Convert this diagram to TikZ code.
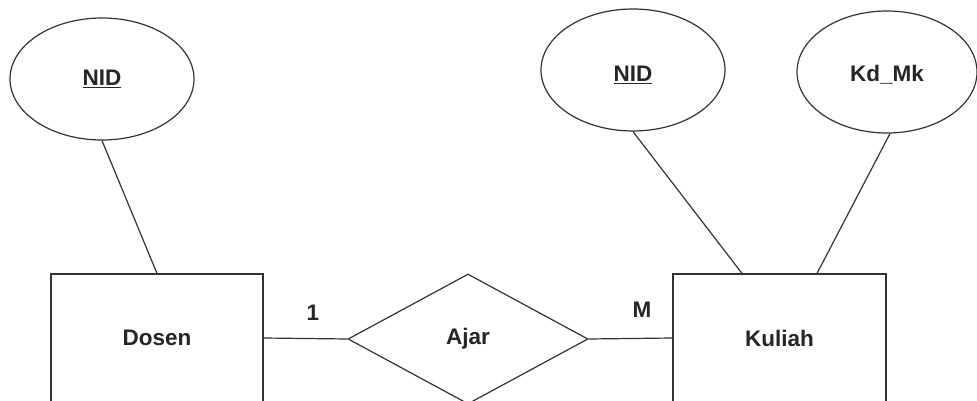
\documentclass[tikz,border=0pt]{standalone}
\usepackage{fontspec}
\setmainfont{Liberation Sans}
\usetikzlibrary{shapes.geometric}
% lower a label inside its node without changing the node's size
\newcommand{\lowerby}[2]{\raisebox{-#1}[\height][\depth]{#2}}
\begin{document}
\begin{tikzpicture}[x=1pt,y=-1pt,
  every node/.style={font=\fontsize{22.5}{26}\selectfont\bfseries, text=black!85},
  ln/.style={draw=black!80, line width=1.2pt},
  entity/.style={ln, rectangle, inner sep=0pt, minimum width=212pt, minimum height=128pt},
  attr/.style={ln, ellipse, inner sep=0pt, minimum width=184pt, minimum height=122pt},
  rel/.style={ln, diamond, inner sep=0pt, minimum width=240pt, minimum height=130pt, aspect=1.85},
  card/.style={inner sep=0pt}]
  \clip (0,0) rectangle (977,401);
  \fill[white] (0,0) rectangle (977,401);

  % entities
  \node[entity] (dosen) at (157,338) {Dosen};
  \node[entity, minimum width=213pt] (kuliah) at (779.5,338) {Kuliah};

  % relationship
  \node[rel] (ajar) at (468,339) {Ajar};

  % attributes
  \node[attr] (nid1) at (102,79) {\underline{NID}};
  \node[attr] (nid2) at (633,70) {\lowerby{5pt}{\underline{NID}}};
  \node[attr, minimum width=180pt] (kdmk) at (887,72) {\lowerby{3pt}{Kd\_Mk}};

  % attribute links
  \draw[ln] (nid1.south) -- (dosen.north);
  \draw[ln] (nid2.south) -- ([xshift=-37.5pt]kuliah.north);
  \draw[ln] ([xshift=3pt]kdmk.south) -- ([xshift=37.5pt]kuliah.north);

  % relationship links
  \draw[ln] (dosen.east) -- (ajar.west);
  \draw[ln] (ajar.east) -- (kuliah.west);

  % cardinalities
  \node[card] (c1) at (313,313) {1};
  \node[card] (cm) at (642,310) {M};
\end{tikzpicture}
\end{document}
